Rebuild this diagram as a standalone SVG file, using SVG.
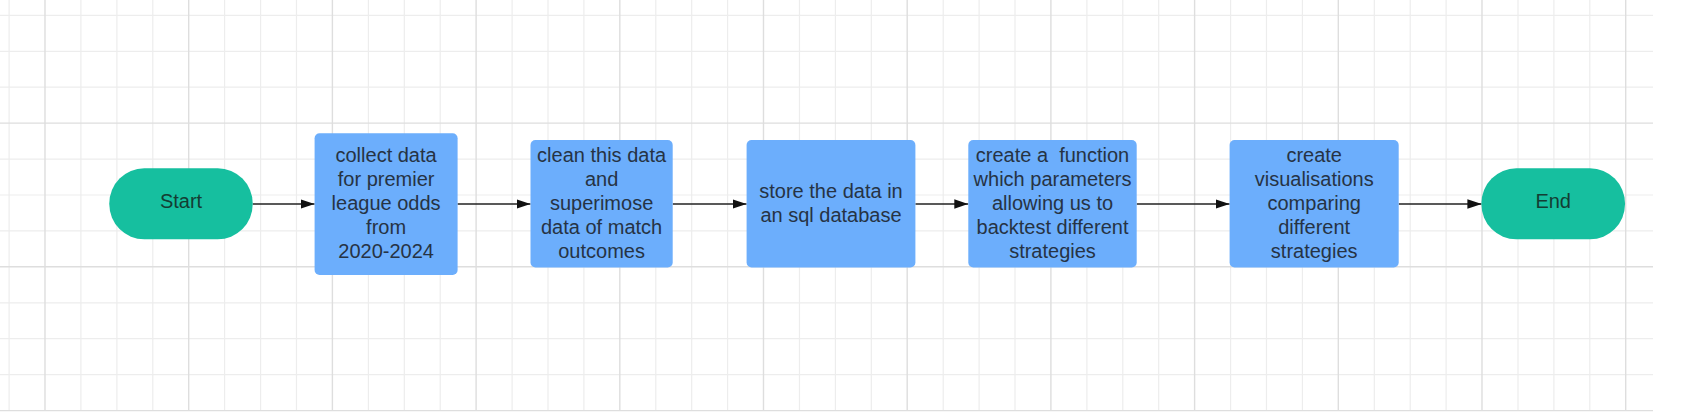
<svg xmlns="http://www.w3.org/2000/svg" width="1684" height="412" viewBox="0 0 1684 412">
<defs>
<style>
.minor{stroke:#ededed;stroke-width:1.2;fill:none}
.major{stroke:#dedede;stroke-width:1.4;fill:none}
.term{fill:#16bf9f}
.proc{fill:#6caefc}
.tt{font-family:"Liberation Sans",Arial,sans-serif;font-size:20px;fill:#143d33;text-anchor:middle}
.bt{font-family:"Liberation Sans",Arial,sans-serif;font-size:20px;fill:#263344;text-anchor:middle}
.conn{stroke:#222;stroke-width:1.3;fill:none;marker-end:url(#arr)}
</style>
<marker id="arr" viewBox="0 0 14 10" refX="14" refY="5" markerWidth="14" markerHeight="10" markerUnits="userSpaceOnUse" orient="auto">
<path d="M0,0.3 L14,5 L0,9.7 Z" fill="#111"/>
</marker>
</defs>
<rect x="0" y="0" width="1684" height="412" fill="#ffffff"/>
<g id="grid">
<path class="minor" d="M9.1 0V411M80.9 0V411M116.9 0V411M152.8 0V411M224.6 0V411M260.6 0V411M296.5 0V411M368.4 0V411M404.3 0V411M440.2 0V411M512.1 0V411M548 0V411M583.9 0V411M655.8 0V411M691.7 0V411M727.6 0V411M799.5 0V411M835.4 0V411M871.3 0V411M943.2 0V411M979.1 0V411M1015 0V411M1086.9 0V411M1122.8 0V411M1158.7 0V411M1230.6 0V411M1266.5 0V411M1302.4 0V411M1374.3 0V411M1410.2 0V411M1446.1 0V411M1518 0V411M1553.9 0V411M1589.8 0V411M0 15.4H1653M0 51.3H1653M0 87.2H1653M0 159.1H1653M0 195H1653M0 230.9H1653M0 302.8H1653M0 338.7H1653M0 374.6H1653"/>
<path class="major" d="M45 0V411M188.7 0V411M332.4 0V411M476.1 0V411M619.8 0V411M763.5 0V411M907.2 0V411M1050.9 0V411M1194.6 0V411M1338.3 0V411M1482 0V411M1625.7 0V411M0 123.1H1653M0 266.8H1653M0 410.6H1653"/>
</g>
<g id="connectors">
<path class="conn" d="M252.7 204H314.6"/>
<path class="conn" d="M457.5 204H530.5"/>
<path class="conn" d="M672.7 204H746.6"/>
<path class="conn" d="M915.4 204H968.3"/>
<path class="conn" d="M1136.7 204H1229.6"/>
<path class="conn" d="M1398.7 204H1481.4"/>
</g>
<g id="start">
<rect class="term" x="109.3" y="168.3" width="143.4" height="71" rx="35" ry="35"/>
<text class="tt" x="181" y="208.3">Start</text>
</g>
<g id="collect">
<rect class="proc" x="314.6" y="133.3" width="143" height="141.7" rx="5"/>
<text class="bt" x="386.1" y="161.5">collect data</text>
<text class="bt" x="386.1" y="185.5">for premier</text>
<text class="bt" x="386.1" y="209.5">league odds</text>
<text class="bt" x="386.1" y="233.5">from</text>
<text class="bt" x="386.1" y="257.5">2020-2024</text>
</g>
<g id="clean">
<rect class="proc" x="530.5" y="140" width="142.2" height="127.5" rx="5"/>
<text class="bt" x="601.6" y="161.5">clean this data</text>
<text class="bt" x="601.6" y="185.5">and</text>
<text class="bt" x="601.6" y="209.5">superimose</text>
<text class="bt" x="601.6" y="233.5">data of match</text>
<text class="bt" x="601.6" y="257.5">outcomes</text>
</g>
<g id="store">
<rect class="proc" x="746.6" y="140" width="168.8" height="127.5" rx="5"/>
<text class="bt" x="831" y="197.5">store the data in</text>
<text class="bt" x="831" y="221.5">an sql database</text>
</g>
<g id="function">
<rect class="proc" x="968.3" y="140" width="168.4" height="127.5" rx="5"/>
<text class="bt" x="1052.5" y="161.5" xml:space="preserve">create a  function</text>
<text class="bt" x="1052.5" y="185.5">which parameters</text>
<text class="bt" x="1052.5" y="209.5">allowing us to</text>
<text class="bt" x="1052.5" y="233.5">backtest different</text>
<text class="bt" x="1052.5" y="257.5">strategies</text>
</g>
<g id="visualise">
<rect class="proc" x="1229.6" y="140" width="169.1" height="127.5" rx="5"/>
<text class="bt" x="1314.2" y="161.5">create</text>
<text class="bt" x="1314.2" y="185.5">visualisations</text>
<text class="bt" x="1314.2" y="209.5">comparing</text>
<text class="bt" x="1314.2" y="233.5">different</text>
<text class="bt" x="1314.2" y="257.5">strategies</text>
</g>
<g id="end">
<rect class="term" x="1481.4" y="168.3" width="143.6" height="71" rx="35" ry="35"/>
<text class="tt" x="1553.2" y="208.3">End</text>
</g>
</svg>
